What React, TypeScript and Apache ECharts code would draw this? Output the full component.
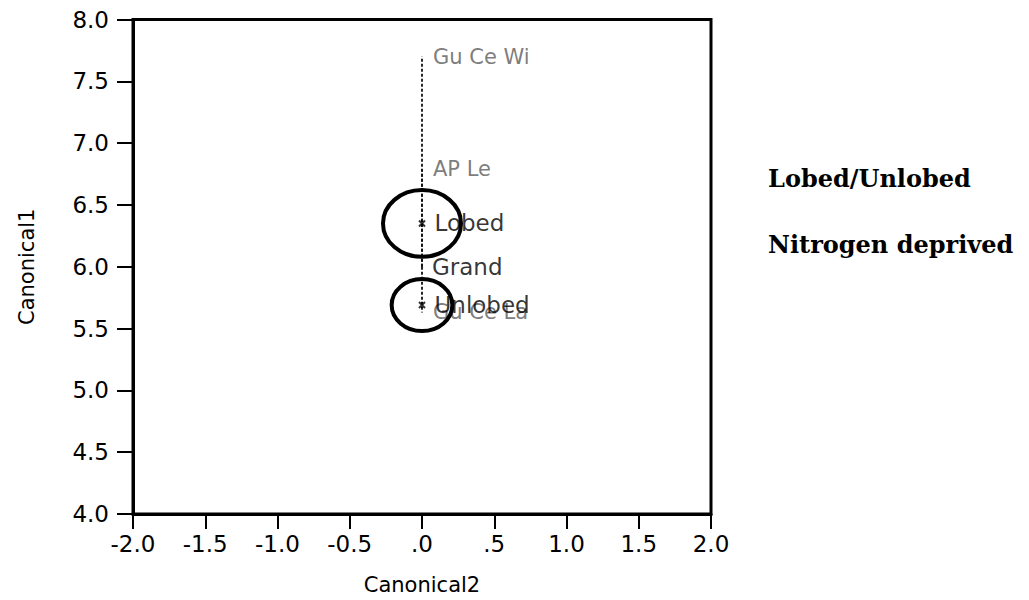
import React, { useEffect, useRef } from "react";
import * as echarts from "echarts";

// Canonical2 axis ticks and their printed labels
const xTicks = [-2.0, -1.5, -1.0, -0.5, 0.0, 0.5, 1.0, 1.5, 2.0];
const xTickLabels = ["-2.0", "-1.5", "-1.0", "-0.5", ".0", ".5", "1.0", "1.5", "2.0"];
// Canonical1 axis ticks
const yTickLabels = ["4.0", "4.5", "5.0", "5.5", "6.0", "6.5", "7.0", "7.5", "8.0"];

// group means in canonical space
const groupNames = ["Lobed", "Unlobed"];
const groupC2 = [0.0, 0.0];
const groupC1 = [6.35, 5.69];
// 95% confidence circle radii (canonical units)
const groupRadius = [0.27, 0.21];

// grand mean
const grandName = "Grand";
const grandC2 = 0.0;
const grandC1 = 6.0;

// biplot rays drawn from the grand mean
const rayNames = ["Gu Ce Wi", "AP Le", "Gu Ce La"];
const rayC2 = [0.0, 0.0, 0.0];
const rayC1 = [7.7, 6.79, 5.63];

// side notes
const notes = ["Lobed/Unlobed", "Nitrogen deprived"];

const SANS = "DejaVu Sans";

export default function App() {
  const ref = useRef<HTMLDivElement>(null);

  useEffect(() => {
    if (!ref.current) return;
    const chart = echarts.init(ref.current, null, { renderer: "svg" });

    const raySeries = rayNames.map((name, i) => ({
      type: "line",
      name,
      data: [
        [grandC2, grandC1],
        [rayC2[i], rayC1[i]],
      ],
      symbol: "none",
      lineStyle: { color: "#111", width: 1.8, type: [3, 2] },
      z: 2,
    }));

    const option: any = {
      animation: false,
      backgroundColor: "#fff",
      grid: {
        left: 114,
        right: 318,
        top: 8,
        bottom: 81,
        show: true,
        borderColor: "#000",
        borderWidth: 3,
        backgroundColor: "transparent",
      },
      xAxis: {
        type: "value",
        min: -2,
        max: 2,
        interval: 0.5,
        name: "Canonical2",
        nameLocation: "middle",
        nameGap: 60,
        nameTextStyle: { fontFamily: SANS, fontSize: 21, color: "#000" },
        axisLine: { show: true, onZero: false, lineStyle: { color: "#000", width: 3 } },
        axisTick: { show: true, length: 15, lineStyle: { color: "#000", width: 2 } },
        splitLine: { show: false },
        axisLabel: {
          fontFamily: SANS,
          fontSize: 23,
          color: "#000",
          margin: 18,
          formatter: (v: number) => {
            const idx = xTicks.findIndex((t) => Math.abs(t - v) < 1e-9);
            return idx >= 0 ? xTickLabels[idx] : "";
          },
        },
      },
      yAxis: {
        type: "value",
        min: 4,
        max: 8,
        interval: 0.5,
        name: "Canonical1",
        nameLocation: "middle",
        nameGap: 96,
        nameRotate: 90,
        nameTextStyle: { fontFamily: SANS, fontSize: 21, color: "#000" },
        axisLine: { show: true, onZero: false, lineStyle: { color: "#000", width: 3 } },
        axisTick: { show: true, length: 16, lineStyle: { color: "#000", width: 2 } },
        splitLine: { show: false },
        axisLabel: {
          fontFamily: SANS,
          fontSize: 23,
          color: "#000",
          margin: 24,
          formatter: (v: number) => {
            const idx = Math.round((v - 4) / 0.5);
            return yTickLabels[idx] ?? "";
          },
        },
      },
      series: [
        ...raySeries,
        {
          // ray tip labels
          type: "scatter",
          data: rayNames.map((n, i) => ({ name: n, value: [rayC2[i], rayC1[i]] })),
          symbolSize: 0,
          label: {
            show: true,
            position: "right",
            distance: 11,
            formatter: (p: any) => p.name,
            fontFamily: SANS,
            fontSize: 21,
            color: "#5a5a5a",
          },
          z: 3,
        },
        {
          // confidence circles
          type: "custom",
          data: groupNames.map((n, i) => [groupC2[i], groupC1[i], groupRadius[i]]),
          renderItem: (params: any, api: any) => {
            const c = api.coord([api.value(0), api.value(1)]);
            const s = api.size([api.value(2), api.value(2)]);
            return {
              type: "ellipse",
              shape: { cx: c[0], cy: c[1], rx: s[0], ry: s[1] },
              style: { fill: "none", stroke: "#000", lineWidth: 4 },
            };
          },
          z: 4,
        },
        {
          // group means
          type: "scatter",
          data: groupNames.map((n, i) => ({ name: n, value: [groupC2[i], groupC1[i]] })),
          symbol: "path://M0,0L10,10M10,0L0,10M5,0L5,10",
          symbolSize: 6,
          itemStyle: { color: "none", borderColor: "#000", borderWidth: 2 },
          label: {
            show: true,
            position: "right",
            distance: 7,
            formatter: (p: any) => p.name,
            fontFamily: SANS,
            fontSize: 23,
            color: "#000",
          },
          z: 5,
        },
        {
          // grand mean
          type: "scatter",
          data: [{ name: grandName, value: [grandC2, grandC1] }],
          symbolSize: 0,
          label: {
            show: true,
            position: "right",
            distance: 10,
            formatter: (p: any) => p.name,
            fontFamily: SANS,
            fontSize: 23,
            color: "#000",
          },
          z: 5,
        },
      ],
      graphic: notes.map((t, i) => ({
        type: "text",
        x: 760,
        y: 170 + i * 66,
        style: {
          text: t,
          fontFamily: "DejaVu Serif",
          fontWeight: "bold",
          fontSize: 24,
          fill: "#000",
          verticalAlign: "middle",
        },
      })),
    };

    chart.setOption(option);
    return () => chart.dispose();
  }, []);

  return <div ref={ref} style={{ width: 1021, height: 592 }} />;
}
